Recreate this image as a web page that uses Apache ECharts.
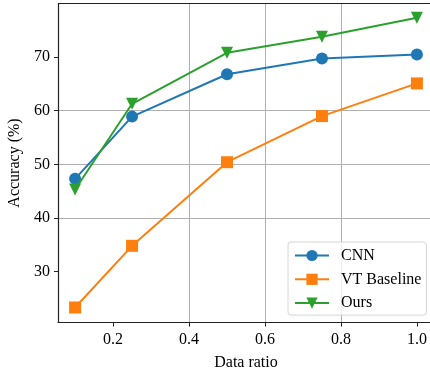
<!DOCTYPE html>
<html>
<head>
<meta charset="utf-8">
<script src="https://cdn.jsdelivr.net/npm/echarts@6/dist/echarts.min.js"></script>
<style>html,body{margin:0;padding:0;background:#fff}#c{width:430px;height:368px}</style>
</head>
<body>
<div id="c"></div>
<script>
const dataRatio = [0.1, 0.25, 0.5, 0.75, 1.0];
const cnn = [47.3, 58.9, 66.8, 69.75, 70.5];
const vtBaseline = [23.3, 34.8, 50.4, 59.0, 65.1];
const ours = [45.3, 61.3, 70.8, 73.8, 77.35];
const seriesNames = ['CNN', 'VT Baseline', 'Ours'];
const xTicks = [0.2, 0.4, 0.6, 0.8, 1.0];
const yTicks = [30, 40, 50, 60, 70];

const FONT = '"Liberation Serif", "Times New Roman", serif';
const colors = ['#1f77b4', '#ff7f0e', '#2ca02c'];
const symbols = ['circle', 'rect', 'triangle'];
const sizes = [12, 12, 12];
const dataSets = [cnn, vtBaseline, ours];

const chart = echarts.init(document.getElementById('c'), null, {renderer: 'canvas'});
chart.setOption({
  animation: false,
  backgroundColor: '#fff',
  textStyle: {fontFamily: FONT},
  grid: {left: 58, top: 3.5, width: 376, height: 319, containLabel: false, outerBoundsMode: 'none'},
  xAxis: {
    type: 'value', min: 0.055, max: 1.045, interval: 0.2,
    name: 'Data ratio', nameLocation: 'middle', nameGap: 32,
    nameTextStyle: {fontFamily: FONT, fontSize: 16, color: '#000'},
    axisLine: {show: true, onZero: false, lineStyle: {color: '#222', width: 1.2}},
    axisTick: {show: true, length: 4, inside: false, lineStyle: {color: '#222'},
      customValues: xTicks},
    axisLabel: {fontFamily: FONT, fontSize: 16, color: '#000', margin: 9,
      customValues: xTicks, formatter: v => v.toFixed(1)},
    splitLine: {show: true, lineStyle: {color: '#b0b0b0', width: 1}, showMinLine: false, showMaxLine: false},
  },
  yAxis: {
    type: 'value', min: 20.5, max: 80, 
    name: 'Accuracy (%)', nameLocation: 'middle', nameGap: 29, nameRotate: 90,
    nameTextStyle: {fontFamily: FONT, fontSize: 16, color: '#000'},
    axisLine: {show: true, onZero: false, lineStyle: {color: '#222', width: 1.2}},
    axisTick: {show: true, length: 4, lineStyle: {color: '#222'}, customValues: yTicks},
    axisLabel: {fontFamily: FONT, fontSize: 16, color: '#000', margin: 8, customValues: yTicks},
    splitLine: {show: true, lineStyle: {color: '#b0b0b0', width: 1}, showMinLine: false, showMaxLine: false},
  },
  graphic: [{
    type: 'line', shape: {x1: 58, y1: 3.5, x2: 430, y2: 3.5},
    style: {stroke: '#222', lineWidth: 1.2}, z: 10
  }],
  legend: {
    left: 288, top: 242, orient: 'vertical',
    itemWidth: 34, itemHeight: 14, itemGap: 7.8,
    padding: [5.5, 5, 4, 6],
    backgroundColor: 'rgba(255,255,255,0.8)',
    borderColor: '#d6d6d6', borderWidth: 1, borderRadius: 3,
    textStyle: {fontFamily: FONT, fontSize: 16, color: '#000', padding: [0, 0, 0, 7]},
    data: seriesNames
  },
  series: seriesNames.map((n, i) => ({
    name: n, type: 'line',
    data: dataRatio.map((x, j) => [x, dataSets[i][j]]),
    symbol: symbols[i], symbolSize: sizes[i],
    symbolRotate: i === 2 ? 180 : 0,
    itemStyle: {color: colors[i]},
    lineStyle: {color: colors[i], width: 2},
    z: 3 + i
  }))
});
</script>
</body>
</html>
